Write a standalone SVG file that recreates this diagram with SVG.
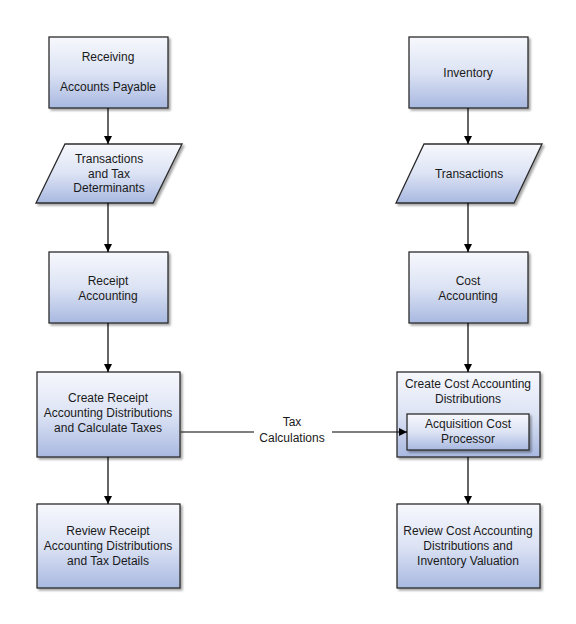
<svg xmlns="http://www.w3.org/2000/svg" width="576" height="624" viewBox="0 0 576 624">
<defs>
<linearGradient id="g" x1="0" y1="0" x2="0" y2="1">
<stop offset="0" stop-color="#f7f8fd"/>
<stop offset="0.5" stop-color="#dce3f4"/>
<stop offset="1" stop-color="#a8b8e0"/>
</linearGradient>
<marker id="ah" markerWidth="10" markerHeight="10" refX="9" refY="5" orient="auto" markerUnits="userSpaceOnUse">
<path d="M1,1 L9,5 L1,9 Z" fill="#000"/>
</marker>
<filter id="sh" x="-10%" y="-10%" width="130%" height="130%">
<feOffset dx="1.5" dy="1.5" in="SourceAlpha" result="o"/>
<feGaussianBlur in="o" stdDeviation="1" result="b"/>
<feComponentTransfer in="b" result="c"><feFuncA type="linear" slope="0.35"/></feComponentTransfer>
<feMerge><feMergeNode in="c"/><feMergeNode in="SourceGraphic"/></feMerge>
</filter>
</defs>
<style>
.n{fill:url(#g);stroke:#2b2b2b;stroke-width:1.3;filter:url(#sh)}
.t{font-family:"Liberation Sans",Arial,sans-serif;font-size:12px;fill:#1a1a1a;text-anchor:middle}
.c{stroke:#000;stroke-width:1.2;fill:none;marker-end:url(#ah)}
</style>
<rect width="576" height="624" fill="#fff"/>
<g id="receiving">
<rect class="n" x="49" y="37" width="119" height="71"/>
<text class="t" x="108" y="61">Receiving</text>
<text class="t" x="108" y="91">Accounts Payable</text>
</g>
<g id="transactions-tax">
<polygon class="n" points="65,144 182,144 153,203 36,203"/>
<text class="t" x="109" y="163">Transactions</text>
<text class="t" x="109" y="178">and Tax</text>
<text class="t" x="109" y="192">Determinants</text>
</g>
<g id="receipt-accounting">
<rect class="n" x="49" y="252" width="119" height="71"/>
<text class="t" x="108" y="285">Receipt</text>
<text class="t" x="108" y="300">Accounting</text>
</g>
<g id="create-receipt">
<rect class="n" x="37" y="372" width="143" height="85"/>
<text class="t" x="108" y="402">Create Receipt</text>
<text class="t" x="108" y="417">Accounting Distributions</text>
<text class="t" x="108" y="432">and Calculate Taxes</text>
</g>
<g id="review-receipt">
<rect class="n" x="37" y="504" width="143" height="84"/>
<text class="t" x="108" y="535">Review Receipt</text>
<text class="t" x="108" y="550">Accounting Distributions</text>
<text class="t" x="108" y="565">and Tax Details</text>
</g>
<g id="inventory">
<rect class="n" x="409" y="37" width="119" height="71"/>
<text class="t" x="468" y="77">Inventory</text>
</g>
<g id="transactions">
<polygon class="n" points="424,144 542,144 514,203 396,203"/>
<text class="t" x="469" y="178">Transactions</text>
</g>
<g id="cost-accounting">
<rect class="n" x="409" y="252" width="119" height="71"/>
<text class="t" x="468" y="285">Cost</text>
<text class="t" x="468" y="300">Accounting</text>
</g>
<g id="create-cost">
<rect class="n" x="397" y="372" width="143" height="85"/>
<text class="t" x="468" y="388">Create Cost Accounting</text>
<text class="t" x="468" y="403">Distributions</text>
<g id="acquisition-cost-processor">
<rect class="n" x="407" y="414" width="122" height="36"/>
<text class="t" x="468" y="428">Acquisition Cost</text>
<text class="t" x="468" y="443">Processor</text>
</g>
</g>
<g id="review-cost">
<rect class="n" x="397" y="504" width="143" height="84"/>
<text class="t" x="468" y="535">Review Cost Accounting</text>
<text class="t" x="468" y="550">Distributions and</text>
<text class="t" x="468" y="565">Inventory Valuation</text>
</g>
<g id="connectors">
<line class="c" x1="108" y1="108" x2="108" y2="144"/>
<line class="c" x1="108" y1="203" x2="108" y2="252"/>
<line class="c" x1="108" y1="323" x2="108" y2="372"/>
<line class="c" x1="108" y1="457" x2="108" y2="504"/>
<line class="c" x1="468" y1="108" x2="468" y2="144"/>
<line class="c" x1="468" y1="203" x2="468" y2="252"/>
<line class="c" x1="468" y1="323" x2="468" y2="372"/>
<line class="c" x1="468" y1="457" x2="468" y2="504"/>
<line class="c" x1="181" y1="432" x2="407" y2="432"/>
<rect x="254" y="411" width="78" height="34" fill="#fff"/>
<text class="t" x="292" y="426">Tax</text>
<text class="t" x="292" y="442">Calculations</text>
</g>
</svg>
